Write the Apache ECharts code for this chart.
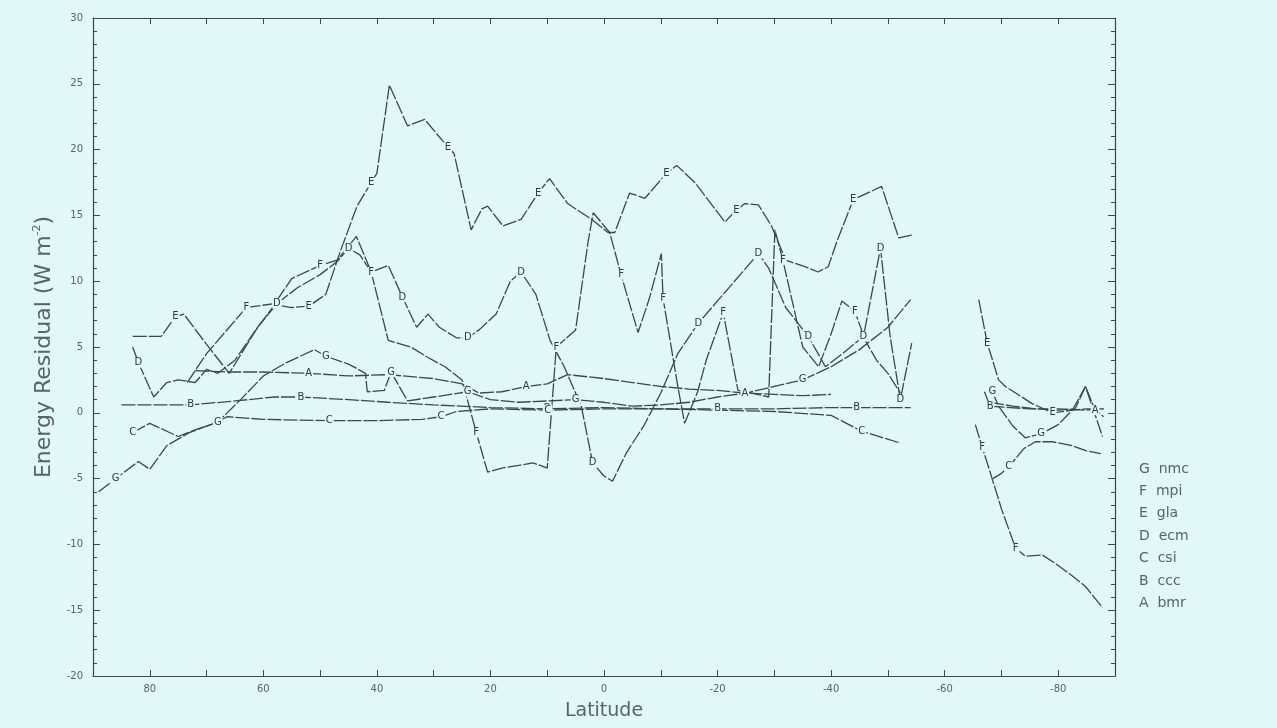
<!DOCTYPE html>
<html>
<head>
<meta charset="utf-8">
<script src="https://cdn.jsdelivr.net/npm/echarts@6/dist/echarts.min.js"></script>
<style>
  html, body { margin: 0; padding: 0; background: #e2f7f7; }
  #chart { width: 1277px; height: 728px; }
</style>
</head>
<body>
<div id="chart"></div>
<script>
// Zonal mean energy residual by model, latitude 90N to 90S
const xTickLabels = [80, 60, 40, 20, 0, -20, -40, -60, -80];
const yTickLabels = [-20, -15, -10, -5, 0, 5, 10, 15, 20, 25, 30];
const legendLetters = ['G', 'F', 'E', 'D', 'C', 'B', 'A'];
const legendNames = ['nmc', 'mpi', 'gla', 'ecm', 'csi', 'ccc', 'bmr'];

// null separates the northern/tropical segment from the Antarctic segment
const latA = [72, 66, 60, 52, 45, 38, 30, 25, 22, 18, 13.7, 10, 6.4, 0, -5, -10, -15, -20, -24.8, -30, -35, -40, null, -68, -72, -76, -80, -83, -84.8, -86.5, -88];
const bmr  = [3.2, 3.1, 3.1, 3.0, 2.8, 2.9, 2.6, 2.2, 1.5, 1.6, 2.0, 2.2, 2.9, 2.6, 2.3, 2.0, 1.8, 1.7, 1.5, 1.4, 1.3, 1.4, null, 0.8, 0.5, 0.3, 0.2, 0.3, 2.0, 0.2, -0.3];
const letterAtA = [52, 13.7, -24.8, -86.5];

const latB = [85, 78, 72.8, 65, 58, 53.4, 45, 38, 30, 20, 10, 0, -10, -20, -30, -40, -44.5, -50, -54, null, -67, -68, -75, -80, -85, -88];
const ccc  = [0.6, 0.6, 0.6, 0.9, 1.2, 1.2, 1.0, 0.8, 0.6, 0.4, 0.3, 0.4, 0.3, 0.3, 0.3, 0.4, 0.4, 0.4, 0.4, null, 1.6, 0.5, 0.3, 0.3, 0.2, 0.3];
const letterAtB = [72.8, 53.4, 10, -20, -44.5, -68];

const latC = [83, 80, 77, 75, 72, 68, 66.4, 60, 48.4, 40, 32, 28.7, 26, 20, 9.9, 0, -10, -20, -30, -40, -45.4, -52.2, null, -68.5, -70, -71.3, -74, -76, -79, -82.5, -85, -87.5];
const csi  = [-1.5, -0.8, -1.4, -1.8, -1.3, -0.7, -0.3, -0.5, -0.6, -0.6, -0.5, -0.3, 0.1, 0.3, 0.2, 0.3, 0.3, 0.2, 0.1, -0.2, -1.4, -2.3, null, -5.0, -4.6, -4.1, -2.7, -2.2, -2.2, -2.5, -2.9, -3.1];
const letterAtC = [83, 48.4, 28.7, 9.9, -45.4, -71.3];

const latD = [83, 82, 79.3, 77, 75, 72, 70, 68, 65, 61, 57.6, 54, 50, 47, 45, 43, 41, 38, 35.5, 33, 31, 29, 26, 24, 22, 19, 16.5, 14.6, 12, 9.5, 7, 4, 2, 0, -1.5, -4, -7, -10, -13, -16.6, -20, -24, -27.2, -29, -32, -36, -39, -42, -45.7, -48.7, -50.4, -52.2, -54.2];
const ecm  = [5.0, 3.8, 1.2, 2.3, 2.5, 2.3, 3.3, 3.0, 4.0, 6.5, 8.3, 9.5, 10.5, 11.5, 12.5, 12.0, 10.7, 11.2, 8.8, 6.5, 7.5, 6.5, 5.7, 5.7, 6.3, 7.5, 10.0, 10.7, 9.0, 5.5, 3.5, 0.5, -3.8, -4.8, -5.2, -3.0, -1.0, 1.5, 4.5, 6.8, 8.5, 10.5, 12.1, 11.0, 8.0, 5.8, 3.5, 4.5, 5.8, 12.5, 5.8, 1.0, 5.3];
const letterAtD = [82, 57.6, 45, 35.5, 24, 14.6, 2, -16.6, -27.2, -36, -45.7, -48.7, -52.2];

const latE = [83, 78, 75.5, 74, 70, 66, 64, 61, 58, 55, 52, 49, 46.5, 43.5, 41, 40, 37.8, 34.6, 31.6, 27.5, 26.4, 23.4, 21.5, 20.5, 17.8, 14.6, 11.6, 9.6, 6.4, 2.2, -0.7, -1.9, -4.5, -7.2, -11, -12.8, -16, -21.3, -23.3, -24.8, -27.2, -29.5, -32, -35.4, -37.7, -39.5, -41, -43.9, -48.9, -51.9, -54.2, null, -66, -67.5, -69.5, -70.7, -75.4, -79, -82.5, -85, -88];
const gla  = [5.8, 5.8, 7.3, 7.5, 5.2, 3.0, 4.4, 6.5, 8.2, 8.0, 8.1, 9.0, 12.2, 15.7, 17.5, 18.2, 24.9, 21.8, 22.3, 20.2, 19.7, 13.9, 15.5, 15.7, 14.2, 14.7, 16.7, 17.8, 15.9, 14.7, 13.7, 13.7, 16.7, 16.3, 18.2, 18.8, 17.5, 14.5, 15.4, 15.9, 15.8, 14.2, 11.6, 11.1, 10.7, 11.1, 13.0, 16.2, 17.2, 13.3, 13.5, null, 8.6, 5.3, 2.5, 2.0, 0.7, 0.0, 0.2, 0.3, 0.3];
const letterAtE = [75.5, 52, 41, 27.5, 11.6, -11, -23.3, -43.9, -67.5, -79];

const latF = [73.4, 70, 66, 63, 58, 55, 50, 47, 43.6, 41, 38, 34, 31, 28, 25, 22.5, 20.5, 18, 15, 12.5, 10, 8.4, 5, 2.8, 1.9, -1, -3, -6, -8, -10.1, -10.4, -13, -14.2, -16.5, -18, -21, -23.6, -26, -29, -30.1, -31.5, -35, -37.8, -40, -41.9, -44.2, -46, -48, -50, -52.2, null, -65.4, -66.6, -68, -70, -72.5, -74.2, -77.2, -80, -82.5, -84.8, -87.8];
const mpi  = [2.3, 4.5, 6.5, 8.0, 8.3, 10.2, 11.2, 11.6, 13.4, 10.7, 5.5, 5.0, 4.2, 3.5, 2.5, -1.5, -4.5, -4.2, -4.0, -3.8, -4.2, 5.0, 6.3, 13.0, 15.2, 13.7, 10.5, 6.1, 8.7, 12.1, 8.7, 2.0, -0.8, 1.6, 4.0, 7.6, 1.7, 1.5, 1.2, 13.9, 11.6, 5.0, 3.5, 6.0, 8.5, 7.7, 5.5, 4.0, 3.0, 1.5, null, -0.9, -2.6, -4.5, -7.3, -10.3, -10.9, -10.8, -11.6, -12.4, -13.2, -14.8];
const letterAtF = [63, 50, 41, 22.5, 8.4, -3, -10.4, -21, -31.5, -44.2, -66.6, -72.5];

const latG = [89, 86, 82, 80, 77, 73, 68, 64, 60, 56, 51, 49, 45, 42, 41.7, 38.7, 37.5, 34.6, 30, 27, 24, 20, 15, 10, 5, 0, -5, -10, -15, -20, -25, -30, -35, -40, -45, -50, -54, null, -68.4, -69.5, -72, -74.2, -77, -80, -82.5, -84.8, -87.8];
const nmc  = [-6.0, -5.0, -3.7, -4.3, -2.5, -1.5, -0.7, 1.0, 2.8, 3.8, 4.8, 4.3, 3.7, 3.0, 1.6, 1.7, 3.1, 0.9, 1.2, 1.4, 1.6, 1.0, 0.8, 0.9, 1.0, 0.8, 0.5, 0.6, 0.8, 1.2, 1.5, 2.0, 2.5, 3.5, 4.8, 6.5, 8.6, null, 1.6, 0.5, -1.0, -1.9, -1.6, -0.9, 0.2, 2.0, -1.8];
const letterAtG = [86, 68, 49, 37.5, 24, 5, -35, -68.4, -77];

const BG = '#e2f7f7';
const INK = '#3c4848';
const TEXT = '#5a6464';
const FONT = 'DejaVu Sans';

function makeSeries(letter, lats, vals, letterAt) {
  const data = lats.map((x, i) => {
    if (x === null || vals[i] === null) return ['-', '-'];
    return {
      value: [x, vals[i]],
      label: { show: letterAt.indexOf(x) >= 0 }
    };
  });
  return {
    type: 'line',
    name: letter,
    data: data,
    xAxisIndex: 0,
    yAxisIndex: 0,
    showSymbol: true,
    showAllSymbol: true,
    symbol: 'circle',
    symbolSize: 1,
    itemStyle: { color: 'rgba(0,0,0,0)' },
    connectNulls: false,
    lineStyle: { color: INK, width: 1.3, type: [14, 2] },
    label: {
      show: false,
      position: 'inside',
      formatter: letter,
      fontFamily: FONT,
      fontSize: 10,
      color: '#2f3a3a',
      backgroundColor: BG,
      padding: [0, 1]
    },
    labelLayout: { hideOverlap: false },
    emphasis: { disabled: true },
    animation: false,
    z: 3
  };
}

const series = [
  makeSeries('A', latA, bmr, letterAtA),
  makeSeries('B', latB, ccc, letterAtB),
  makeSeries('C', latC, csi, letterAtC),
  makeSeries('D', latD, ecm, letterAtD),
  makeSeries('E', latE, gla, letterAtE),
  makeSeries('F', latF, mpi, letterAtF),
  makeSeries('G', latG, nmc, letterAtG)
];

const axisLine = { show: true, onZero: false, lineStyle: { color: INK, width: 1.2 } };

const option = {
  backgroundColor: BG,
  animation: false,
  grid: { left: 93, right: 162, top: 18, bottom: 52, containLabel: false },
  xAxis: [
    {
      type: 'value', min: -90, max: 90, interval: 10, inverse: true, position: 'bottom',
      name: 'Latitude', nameLocation: 'middle', nameGap: 26,
      nameTextStyle: { fontFamily: FONT, fontSize: 19, color: TEXT },
      axisLine: axisLine,
      axisTick: { show: true, inside: true, length: 6, lineStyle: { color: INK } },
      axisLabel: {
        fontFamily: FONT, fontSize: 10, color: TEXT, margin: 8,
        formatter: v => (xTickLabels.indexOf(v) >= 0 ? String(v) : '')
      },
      splitLine: { show: false }
    },
    {
      type: 'value', min: -90, max: 90, interval: 10, inverse: true, position: 'top',
      axisLine: axisLine,
      axisTick: { show: true, inside: true, length: 6, lineStyle: { color: INK } },
      axisLabel: { show: false },
      splitLine: { show: false }
    }
  ],
  yAxis: [
    {
      type: 'value', min: -20, max: 30, interval: 5, position: 'left',
      name: 'Energy Residual (W m{sup|-2})', nameLocation: 'middle', nameGap: 37, nameRotate: 90,
      nameTextStyle: {
        fontFamily: FONT, fontSize: 22, color: TEXT,
        rich: { sup: { fontFamily: FONT, fontSize: 11, color: TEXT, verticalAlign: 'top', padding: [0, 0, 13, 0] } }
      },
      axisLine: axisLine,
      axisTick: { show: true, inside: true, length: 7, lineStyle: { color: INK } },
      minorTick: { show: true, splitNumber: 5, length: 4, lineStyle: { color: INK } },
      axisLabel: {
        fontFamily: FONT, fontSize: 10, color: TEXT, margin: 10,
        formatter: v => (yTickLabels.indexOf(v) >= 0 ? String(v) : '')
      },
      splitLine: { show: false }
    },
    {
      type: 'value', min: -20, max: 30, interval: 5, position: 'right',
      axisLine: axisLine,
      axisTick: { show: true, inside: true, length: 7, lineStyle: { color: INK } },
      minorTick: { show: true, splitNumber: 5, length: 4, lineStyle: { color: INK } },
      axisLabel: { show: false },
      splitLine: { show: false }
    }
  ],
  graphic: legendLetters.map((L, i) => ({
    type: 'text',
    left: 1139,
    top: 462 + i * 22.4,
    style: {
      text: L + '  ' + legendNames[i],
      font: '14px "DejaVu Sans"',
      fill: TEXT
    }
  })),
  series: series
};

const chart = echarts.init(document.getElementById('chart'), null, { renderer: 'canvas' });
chart.setOption(option);
</script>
</body>
</html>
